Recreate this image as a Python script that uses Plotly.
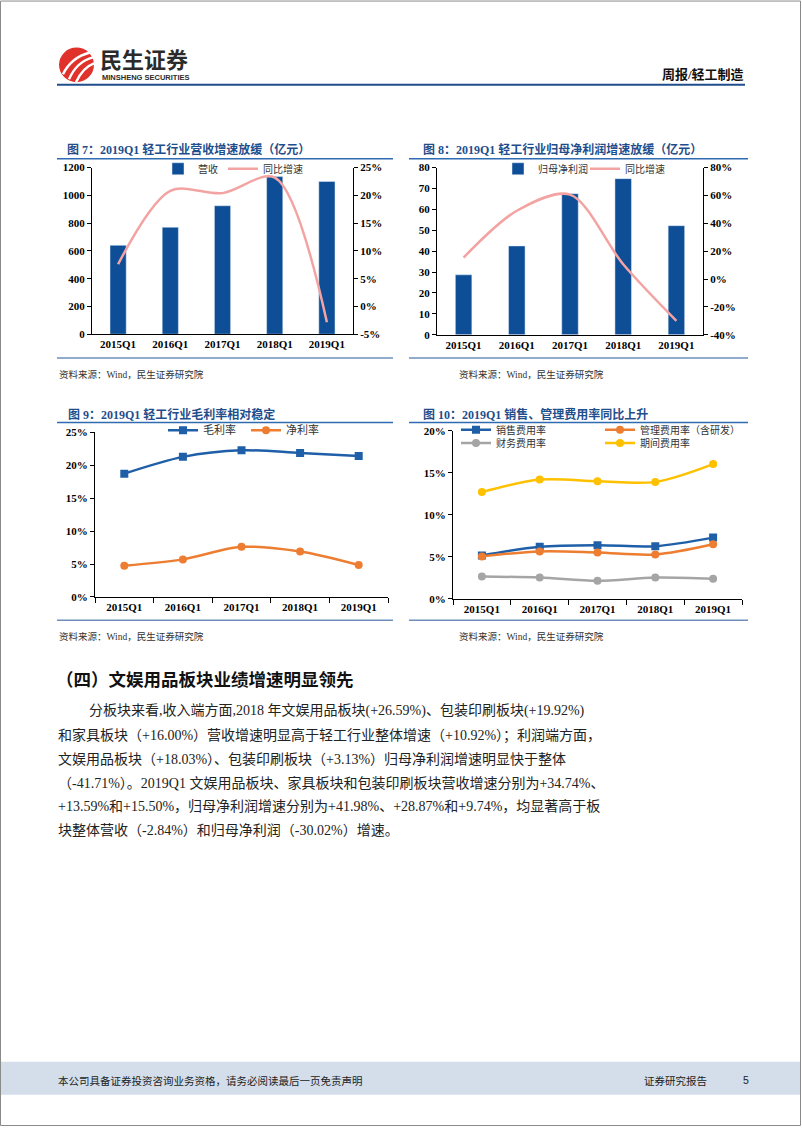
import plotly.graph_objects as go

W, H = 802, 1133
def X(px): return px / W
def Y(py): return 1 - py / H

# ---------------- data ----------------
quarters = ["2015Q1", "2016Q1", "2017Q1", "2018Q1", "2019Q1"]
revenue = [640, 770, 925, 1135, 1100]
revenue_yoy = [7.6, 20.8, 20.4, 23.2, -2.84]
profit = [28.7, 42.5, 67.5, 74.7, 52.2]
profit_yoy = [15.4, 49.0, 60.6, 10.6, -30.02]
gross_margin = [18.7, 21.25, 22.25, 21.85, 21.4]
net_margin = [4.75, 5.7, 7.6, 6.9, 4.85]
sales_exp = [5.15, 6.17, 6.37, 6.25, 7.27]
admin_exp = [5.03, 5.62, 5.5, 5.27, 6.48]
fin_exp = [2.63, 2.51, 2.12, 2.51, 2.36]
period_exp = [12.69, 14.18, 13.99, 13.91, 16.03]

rev_ticks = [0, 200, 400, 600, 800, 1000, 1200]
rev_yoy_ticks = [-5, 0, 5, 10, 15, 20, 25]
prof_ticks = [0, 10, 20, 30, 40, 50, 60, 70, 80]
prof_yoy_ticks = [-40, -20, 0, 20, 40, 60, 80]
margin_ticks = [0, 5, 10, 15, 20, 25]
expense_ticks = [0, 5, 10, 15, 20]

# ---------------- styles ----------------
BAR = "#0D4E96"
PINK = "#F4A3A3"
BLUE = "#1F5FA8"
ORANGE = "#ED7D31"
GRAY = "#A5A5A5"
YELLOW = "#FFC000"
TITLE_C = "#1F4E8C"
TICKF = dict(family="Liberation Serif", size=11, color="#000", weight="bold")
CJK = "Noto Sans CJK SC"
SERIFCJK = "Liberation Serif, Noto Sans CJK SC"

fig = go.Figure()

def spline_line(color):
    return dict(color=color, width=2.5, shape="spline", smoothing=0.9)

# chart 7
fig.add_trace(go.Bar(x=quarters, y=revenue, name="营收", marker_color=BAR, width=0.31,
                     xaxis="x", yaxis="y", legend="legend"))
fig.add_trace(go.Scatter(x=quarters, y=revenue_yoy, name="同比增速", mode="lines",
                         line=spline_line(PINK), xaxis="x", yaxis="y2", legend="legend"))
# chart 8
fig.add_trace(go.Bar(x=quarters, y=profit, name="归母净利润", marker_color=BAR, width=0.31,
                     xaxis="x3", yaxis="y3", legend="legend2"))
fig.add_trace(go.Scatter(x=quarters, y=profit_yoy, name="同比增速", mode="lines",
                         line=spline_line(PINK), xaxis="x3", yaxis="y4", legend="legend2"))
# chart 9
fig.add_trace(go.Scatter(x=quarters, y=gross_margin, name="毛利率", mode="lines+markers",
                         line=spline_line(BLUE), marker=dict(symbol="square", size=8, color=BLUE),
                         xaxis="x5", yaxis="y5", legend="legend3"))
fig.add_trace(go.Scatter(x=quarters, y=net_margin, name="净利率", mode="lines+markers",
                         line=spline_line(ORANGE), marker=dict(symbol="circle", size=8, color=ORANGE),
                         xaxis="x5", yaxis="y5", legend="legend3"))
# chart 10
fig.add_trace(go.Scatter(x=quarters, y=sales_exp, name="销售费用率", mode="lines+markers",
                         line=spline_line(BLUE), marker=dict(symbol="square", size=8, color=BLUE),
                         xaxis="x6", yaxis="y6", legend="legend4"))
fig.add_trace(go.Scatter(x=quarters, y=admin_exp, name="管理费用率（含研发）", mode="lines+markers",
                         line=spline_line(ORANGE), marker=dict(symbol="circle", size=8, color=ORANGE),
                         xaxis="x6", yaxis="y6", legend="legend4"))
fig.add_trace(go.Scatter(x=quarters, y=fin_exp, name="财务费用率", mode="lines+markers",
                         line=spline_line(GRAY), marker=dict(symbol="circle", size=8, color=GRAY),
                         xaxis="x6", yaxis="y6", legend="legend5"))
fig.add_trace(go.Scatter(x=quarters, y=period_exp, name="期间费用率", mode="lines+markers",
                         line=spline_line(YELLOW), marker=dict(symbol="circle", size=8, color=YELLOW),
                         xaxis="x6", yaxis="y6", legend="legend5"))

def xax(x0, x1, y_anchor, ticks=""):
    d = dict(domain=[X(x0), X(x1)], anchor=y_anchor, type="category", range=[-0.5, 4.5],
             showline=True, linecolor="#000", linewidth=1, showgrid=False, zeroline=False,
             tickfont=TICKF, ticks=ticks, fixedrange=True)
    if ticks:
        d.update(tickson="boundaries", ticklen=5, tickcolor="#000")
    return d

def yax(y0, y1, x_anchor, rng, vals, suffix="", side="left", overlay=None):
    d = dict(domain=[Y(y1), Y(y0)], anchor=x_anchor, range=rng, tickvals=vals,
             ticktext=[f"{v}{suffix}" for v in vals], showline=True, linecolor="#000",
             linewidth=1, showgrid=False, zeroline=False, ticks="outside", ticklen=4,
             tickcolor="#000", tickfont=TICKF, side=side, fixedrange=True)
    if overlay:
        d["overlaying"] = overlay
    return d

fig.update_layout(
    width=W, height=H, margin=dict(l=0, r=0, t=0, b=0),
    paper_bgcolor="white", plot_bgcolor="rgba(0,0,0,0)", barmode="overlay",
    xaxis=xax(92, 353, "y"),
    yaxis=yax(163.3, 331.7, "x", [0, 1200], rev_ticks),
    yaxis2=yax(163.3, 331.7, "x", [-5, 25], rev_yoy_ticks, "%", "right", "y"),
    xaxis3=xax(437, 703, "y3"),
    yaxis3=yax(163.3, 332.3, "x3", [0, 80], prof_ticks),
    yaxis4=yax(163.3, 332.3, "x3", [-40, 80], prof_yoy_ticks, "%", "right", "y3"),
    xaxis5=xax(95, 388, "y5", "outside"),
    yaxis5=yax(430.7, 597.3, "x5", [0, 25], margin_ticks, "%"),
    xaxis6=xax(453, 742, "y6", "outside"),
    yaxis6=yax(429.3, 599, "x6", [0, 20], expense_ticks, "%"),
)

def leg(x, y, entry=None, size=10):
    d = dict(x=X(x), y=Y(y), xanchor="left", yanchor="middle", orientation="h",
             bgcolor="rgba(0,0,0,0)", font=dict(family=CJK, size=size, color="#333"),
             itemwidth=30, tracegroupgap=0, itemclick=False, itemdoubleclick=False)
    if entry:
        d.update(entrywidth=entry, entrywidthmode="pixels")
    return d

fig.update_layout(
    legend=leg(158, 164.5),
    legend2=leg(498, 164.5, 42),
    legend3=leg(163, 428.7, 38, 11),
    legend4=leg(456, 428.3, 99),
    legend5=leg(456, 441.7, 99),
)

shapes = []
annots = []

def hline(x0, x1, y, color, w):
    shapes.append(dict(type="line", xref="paper", yref="paper", x0=X(x0), x1=X(x1),
                       y0=Y(y), y1=Y(y), line=dict(color=color, width=w)))

def text(s, x, y, size, color="#000", family=CJK, bold=False, anchor="left"):
    if bold:
        s = f"<b>{s}</b>"
    annots.append(dict(text=s, x=X(x), y=Y(y), xref="paper", yref="paper",
                       xanchor=anchor, yanchor="middle", showarrow=False, borderpad=0,
                       font=dict(family=family, size=size, color=color)))

# page border
shapes.append(dict(type="rect", xref="paper", yref="paper", x0=X(0.5), x1=X(800.5),
                   y0=Y(1131.5), y1=Y(-5), line=dict(color="#8a8a8a", width=1)))

# header
shapes.append(dict(type="circle", xref="paper", yref="paper", x0=X(59), x1=X(94),
                   y0=Y(77), y1=Y(42), fillcolor="#E0312B", line=dict(width=0)))
for (ax, ay, bx, by, cx, cy) in [(63, 69, 71, 52, 90, 47), (69, 74, 77, 56, 93, 52), (76, 77, 83, 62, 94, 58)]:
    shapes.append(dict(type="path", xref="paper", yref="paper",
                       path=f"M {X(ax)},{Y(ay)} Q {X(bx)},{Y(by)} {X(cx)},{Y(cy)}",
                       line=dict(color="white", width=2.4)))
text("民生证券", 99, 52.5, 22, "#2b2b2b", CJK, True)
text("MINSHENG SECURITIES", 101, 72, 7.5, "#2b2b2b", "Liberation Sans", True)
text("周报/轻工制造", 745, 69.5, 13, "#111", SERIFCJK, True, "right")
hline(57, 745, 79.5, "#1F4E8C", 2)

# chart titles and rules
text("图 7：2019Q1 轻工行业营收增速放缓（亿元）", 66, 145, 12, TITLE_C, SERIFCJK, True)
text("图 8：2019Q1 轻工行业归母净利润增速放缓（亿元）", 422, 145, 12, TITLE_C, SERIFCJK, True)
text("图 9：2019Q1 轻工行业毛利率相对稳定", 67, 412.5, 12, TITLE_C, SERIFCJK, True)
text("图 10：2019Q1 销售、管理费用率同比上升", 422, 412.5, 12, TITLE_C, SERIFCJK, True)
for (x0, x1) in [(57, 393), (409, 748)]:
    hline(x0, x1, 154.5, "#2E6BB0", 1.5)
    hline(x0, x1, 355.7, "#6F8FBA", 1.5)
    hline(x0, x1, 421, "#2E6BB0", 1.5)
    hline(x0, x1, 620.7, "#6F8FBA", 1.5)

src = "资料来源：Wind，民生证券研究院"
text(src, 58, 372, 9.5, "#333", SERIFCJK)
text(src, 458, 372, 9.5, "#333", SERIFCJK)
text(src, 58, 637, 9.5, "#333", SERIFCJK)
text(src, 458, 637, 9.5, "#333", SERIFCJK)

# section heading & body
text("（四）文娱用品板块业绩增速明显领先", 55, 680, 17.5, "#111", CJK, True)
body = [
    (88, "分板块来看,收入端方面,2018 年文娱用品板块(+26.59%)、包装印刷板块(+19.92%)"),
    (57, "和家具板块（+16.00%）营收增速明显高于轻工行业整体增速（+10.92%）；利润端方面，"),
    (57, "文娱用品板块（+18.03%）、包装印刷板块（+3.13%）归母净利润增速明显快于整体"),
    (57, "（-41.71%）。2019Q1 文娱用品板块、家具板块和包装印刷板块营收增速分别为+34.74%、"),
    (57, "+13.59%和+15.50%，归母净利润增速分别为+41.98%、+28.87%和+9.74%，均显著高于板"),
    (57, "块整体营收（-2.84%）和归母净利润（-30.02%）增速。"),
]
for i, (x0, line) in enumerate(body):
    text(line, x0, 713 + 24 * i, 14, "#222", SERIFCJK)

# footer
shapes.append(dict(type="rect", xref="paper", yref="paper", x0=X(1), x1=X(800),
                   y0=Y(1100.5), y1=Y(1067), fillcolor="#D3DEEA", line=dict(width=0), layer="below"))
text("本公司具备证券投资咨询业务资格，请务必阅读最后一页免责声明", 57, 1085.5, 10.5, "#222", CJK)
text("证券研究报告", 643, 1085.5, 10.5, "#222", CJK)
text("5", 742, 1085.5, 10.5, "#222", "Liberation Sans")

fig.update_layout(shapes=shapes, annotations=annots)
fig.write_html("out.html", config={"displayModeBar": False},
               post_script="document.body.style.margin='0px';document.body.style.overflow='hidden';")
